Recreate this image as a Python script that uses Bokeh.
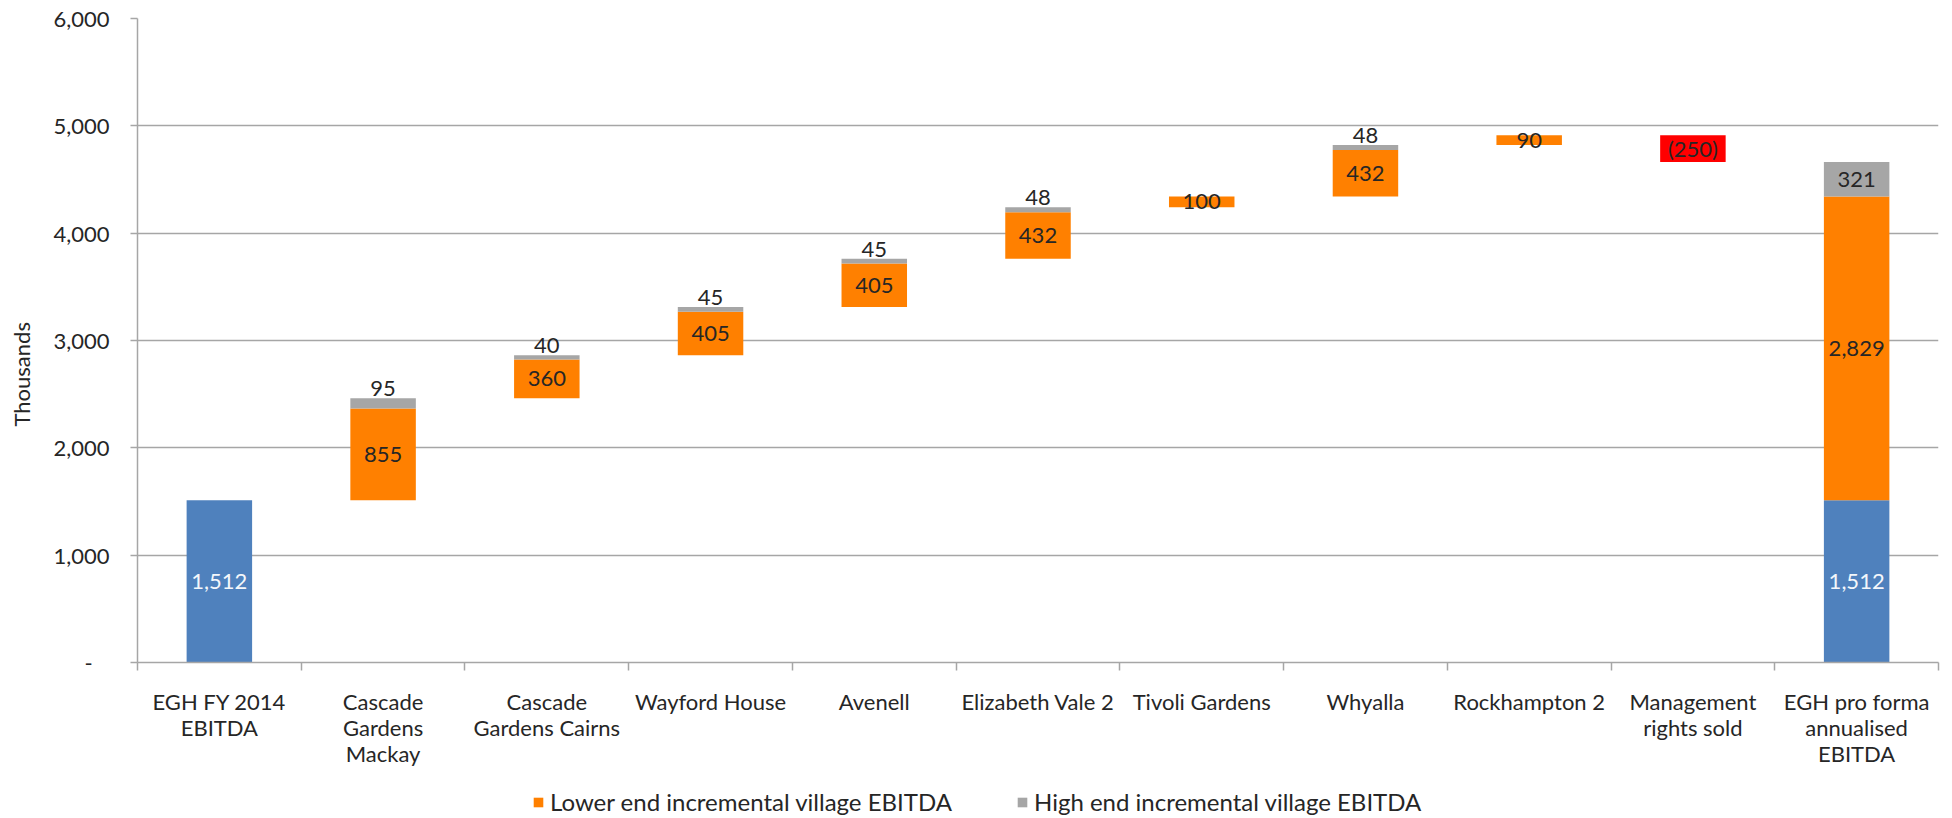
import numpy as np
from bokeh.plotting import figure
from bokeh.layouts import column
from bokeh.models import (ColumnDataSource, FixedTicker, CustomJSTickFormatter, Legend,
                          LegendItem, Range1d)
from bokeh.core.properties import value
from bokeh.embed import file_html
from bokeh.resources import INLINE

# ---------------- data ----------------
categories = ["EGH FY 2014\nEBITDA", "Cascade\nGardens\nMackay", "Cascade\nGardens Cairns",
              "Wayford House", "Avenell", "Elizabeth Vale 2", "Tivoli Gardens", "Whyalla",
              "Rockhampton 2", "Management\nrights sold", "EGH pro forma\nannualised\nEBITDA"]
base_ebitda = [1512, 0, 0, 0, 0, 0, 0, 0, 0, 0, 1512]
lower_end = [0, 855, 360, 405, 405, 432, 100, 432, 90, -250, 2829]
high_end = [0, 95, 40, 45, 45, 48, 0, 48, 0, 0, 321]
y_ticks = [0, 1000, 2000, 3000, 4000, 5000, 6000]
y_tick_labels = ["-\u00a0\u00a0\u00a0", "1,000", "2,000", "3,000", "4,000", "5,000", "6,000"]
y_axis_title = "Thousands"
legend_labels = ["Lower end incremental village EBITDA", "High end incremental village EBITDA"]

# ---------------- style ----------------
FONT = "Lato"
FS = "22px"
LEG_FS = "24px"
BLUE = "#4f81bd"
ORANGE = "#ff8000"
GREY = "#a6a6a6"
RED = "#ff0000"
LINE = "#a6a6a6"
TXT = "#262626"
BAR_W = 0.4

# ---------------- waterfall geometry ----------------
n = len(categories)
xs = np.arange(n) + 0.5
running = 0.0
blue_b, blue_t, or_b, or_t, gr_b, gr_t = [], [], [], [], [], []
for i in range(n):
    is_total = base_ebitda[i] > 0
    level = 0.0 if is_total else running
    b0, b1 = level, level + base_ebitda[i]
    o0, o1 = b1, b1 + lower_end[i]
    g0, g1 = o1, o1 + high_end[i]
    blue_b.append(b0); blue_t.append(b1)
    or_b.append(min(o0, o1)); or_t.append(max(o0, o1))
    gr_b.append(g0); gr_t.append(g1)
    running = g1

def fmt(v):
    s = f"{abs(v):,.0f}"
    return f"({s})" if v < 0 else s

idx_blue = [i for i in range(n) if base_ebitda[i] > 0]
idx_or = [i for i in range(n) if lower_end[i] > 0]
idx_red = [i for i in range(n) if lower_end[i] < 0]
idx_gr = [i for i in range(n) if high_end[i] > 0]

src_blue = ColumnDataSource(dict(x=[xs[i] for i in idx_blue], b=[blue_b[i] for i in idx_blue],
                                 t=[blue_t[i] for i in idx_blue],
                                 m=[(blue_b[i] + blue_t[i]) / 2 for i in idx_blue],
                                 lab=[fmt(base_ebitda[i]) for i in idx_blue]))
src_or = ColumnDataSource(dict(x=[xs[i] for i in idx_or], b=[or_b[i] for i in idx_or],
                               t=[or_t[i] for i in idx_or],
                               m=[(or_b[i] + or_t[i]) / 2 for i in idx_or],
                               lab=[fmt(lower_end[i]) for i in idx_or]))
src_red = ColumnDataSource(dict(x=[xs[i] for i in idx_red], b=[or_b[i] for i in idx_red],
                                t=[or_t[i] for i in idx_red],
                                m=[(or_b[i] + or_t[i]) / 2 for i in idx_red],
                                lab=[fmt(lower_end[i]) for i in idx_red]))
src_gr = ColumnDataSource(dict(x=[xs[i] for i in idx_gr], b=[gr_b[i] for i in idx_gr],
                               t=[gr_t[i] for i in idx_gr]))
# grey labels: centred if the segment is tall enough, else just above the bar
fit_in = [i for i in idx_gr if high_end[i] >= 200]
above = [i for i in idx_gr if high_end[i] < 200]
src_gl_in = ColumnDataSource(dict(x=[xs[i] for i in fit_in],
                                  m=[(gr_b[i] + gr_t[i]) / 2 for i in fit_in],
                                  lab=[fmt(high_end[i]) for i in fit_in]))
src_gl_up = ColumnDataSource(dict(x=[xs[i] for i in above], m=[gr_t[i] for i in above],
                                  lab=[fmt(high_end[i]) for i in above]))

# ---------------- main figure ----------------
p = figure(width=1944, height=780, output_backend="svg", toolbar_location=None,
           x_range=Range1d(0, n), y_range=Range1d(0, 6000),
           min_border_left=137, min_border_right=6, min_border_top=18, min_border_bottom=118)
p.outline_line_color = None
p.background_fill_color = "white"
p.border_fill_color = "white"

r_blue = p.vbar(x="x", bottom="b", top="t", width=BAR_W, source=src_blue, fill_color=BLUE, line_color=None)
r_or = p.vbar(x="x", bottom="b", top="t", width=BAR_W, source=src_or, fill_color=ORANGE, line_color=None)
r_red = p.vbar(x="x", bottom="b", top="t", width=BAR_W, source=src_red, fill_color=RED, line_color=None)
r_gr = p.vbar(x="x", bottom="b", top="t", width=BAR_W, source=src_gr, fill_color=GREY, line_color=None)

common = dict(text_font=value(FONT), text_font_size=value(FS), text_align="center")
p.text(x="x", y="m", text="lab", source=src_blue, text_color="#f4f7fb", text_baseline="middle", **common)
p.text(x="x", y="m", text="lab", source=src_or, text_color=TXT, text_baseline="middle", **common)
p.text(x="x", y="m", text="lab", source=src_red, text_color=TXT, text_baseline="middle", **common)
p.text(x="x", y="m", text="lab", source=src_gl_in, text_color=TXT, text_baseline="middle", **common)
p.text(x="x", y="m", text="lab", source=src_gl_up, text_color=TXT, text_baseline="bottom",
       y_offset=-2, **common)

# ---------------- axes ----------------
xa = p.xaxis[0]
xa.ticker = FixedTicker(ticks=list(xs), minor_ticks=list(range(n + 1)))
xa.formatter = CustomJSTickFormatter(args=dict(cats=categories),
                                     code="return cats[Math.floor(tick)];")
xa.axis_line_color = LINE
xa.axis_line_width = 1.5
xa.major_tick_line_color = None
xa.major_tick_out = 0
xa.major_tick_in = 0
xa.minor_tick_line_color = LINE
xa.minor_tick_line_width = 1.5
xa.minor_tick_out = 8
xa.minor_tick_in = 0
xa.major_label_standoff = 17
xa.major_label_text_font = FONT
xa.major_label_text_font_size = FS
xa.major_label_text_color = TXT
xa.major_label_text_line_height = 0.97
xa.major_label_orientation = "horizontal"

ya = p.yaxis[0]
ya.ticker = FixedTicker(ticks=y_ticks)
ya.formatter = CustomJSTickFormatter(args=dict(tvals=y_ticks, tlabs=y_tick_labels),
                                     code="const i = tvals.indexOf(tick); return i >= 0 ? tlabs[i] : '';")
ya.axis_line_color = LINE
ya.axis_line_width = 1.5
ya.major_tick_line_color = LINE
ya.major_tick_line_width = 1.5
ya.major_tick_out = 7
ya.major_tick_in = 0
ya.minor_tick_line_color = None
ya.major_label_standoff = 21
ya.major_label_text_font = FONT
ya.major_label_text_font_size = FS
ya.major_label_text_color = TXT
# trailing no-break spaces nudge the rotated title slightly below the frame centre
ya.axis_label = y_axis_title + "\u00a0" * 12
ya.axis_label_text_font = FONT
ya.axis_label_text_font_size = FS
ya.axis_label_text_font_style = "normal"
ya.axis_label_text_color = TXT
ya.axis_label_standoff = 15

p.xgrid.visible = False
p.ygrid.ticker = FixedTicker(ticks=y_ticks)
p.ygrid.grid_line_color = LINE
p.ygrid.grid_line_width = 1.5

# ---------------- legend strip ----------------
p2 = figure(width=1944, height=36, output_backend="svg", toolbar_location=None,
            x_range=Range1d(0, 1), y_range=Range1d(0, 1), x_axis_type=None, y_axis_type=None,
            min_border_left=0, min_border_right=0, min_border_top=0, min_border_bottom=0)
p2.outline_line_color = None
p2.grid.visible = False
# swatch renderers: a single zero-height bar outside the strip's range (never visible)
swatch = dict(x=[-5.0], b=[0.0], t=[0.0])
l_or = p2.vbar(x="x", bottom="b", top="t", width=BAR_W, source=ColumnDataSource(swatch),
               fill_color=ORANGE, line_color=None)
l_gr = p2.vbar(x="x", bottom="b", top="t", width=BAR_W, source=ColumnDataSource(swatch),
               fill_color=GREY, line_color=None)
legend = Legend(items=[LegendItem(label=legend_labels[0], renderers=[l_or]),
                       LegendItem(label=legend_labels[1], renderers=[l_gr])],
                orientation="horizontal", location=(395, 0),
                glyph_width=12, glyph_height=12, label_standoff=6, spacing=64,
                padding=0, margin=0, border_line_color=None, background_fill_alpha=0,
                label_text_font=FONT, label_text_font_size=LEG_FS, label_text_color=TXT)
p2.add_layout(legend, "center")

layout = column(p, p2, spacing=0)
open("out.html", "w").write(file_html(layout, INLINE))
